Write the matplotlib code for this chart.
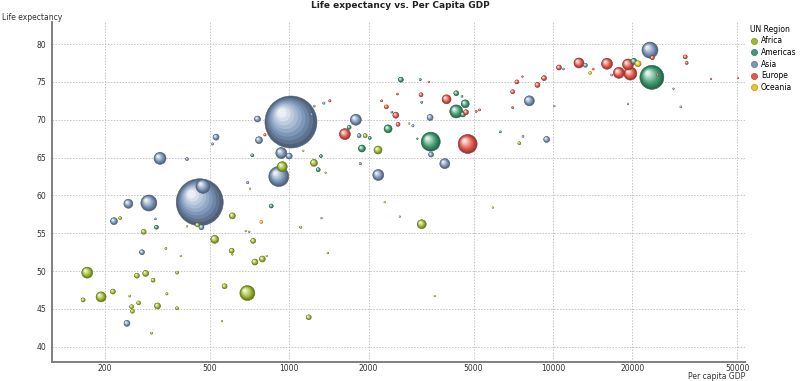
import numpy as np
import matplotlib
matplotlib.use("Agg")
import matplotlib.pyplot as plt
from matplotlib.colors import to_rgb
from matplotlib.lines import Line2D

# per capita GDP, life expectancy, population (millions)
africa_gdp = [171, 165, 193, 214, 248, 252, 254, 268, 264, 285, 304, 316, 300, 280, 340, 343,
              375, 375, 387, 409, 448, 521, 555, 568, 604, 608, 608, 683, 693, 729, 740, 790,
              820, 228, 940, 1130, 1240, 1373, 1940, 2170, 2850, 2300, 5920, 709, 3180, 1105,
              1400, 2625, 3560, 1185, 7460]
africa_life = [49.8, 46.2, 46.6, 47.3, 46.7, 45.3, 44.7, 45.8, 49.4, 49.7, 48.8, 45.4, 41.8, 55.2,
               53.0, 47.0, 49.8, 45.1, 52.0, 55.9, 56.1, 54.2, 43.4, 48.0, 52.7, 57.3, 52.2, 55.3,
               47.1, 54.0, 51.2, 51.6, 52.0, 57.0, 63.8, 65.9, 64.3, 63.0, 67.9, 66.0, 69.5, 59.1,
               58.4, 60.9, 56.2, 55.8, 52.4, 57.2, 46.7, 43.9, 66.9]
africa_pop = [57, 7.5, 47, 11.8, 1.9, 7.5, 7.5, 7.5, 11.8, 17, 7.5, 17, 1.9, 11.8, 1.9, 2.5,
              4.2, 4.2, 1.1, 1.1, 7.5, 30, 1.1, 11.8, 11.8, 17, 1.1, 1.1, 106, 11.8, 17, 17,
              1.1, 4.2, 47, 1.1, 23, 1.1, 7.5, 30, 1.1, 1.1, 1.1, 1.1, 38, 2.5,
              1.5, 1.1, 1.1, 11.8, 4.2]

americas_gdp = [854, 313, 723, 1318, 1287, 1686, 2020, 1885, 2370, 3180, 2650, 3140, 3440,
                4300, 4520, 4650, 4300, 4560, 2450, 6320, 3060, 20300, 23750]
americas_life = [58.6, 55.8, 65.3, 65.2, 63.4, 69.0, 67.6, 66.2, 68.8, 72.3, 75.3, 75.3, 67.1,
                 73.5, 73.1, 72.1, 71.1, 70.7, 71.0, 68.4, 67.5, 77.7, 75.6]
americas_pop = [7.5, 7.5, 4.2, 4.2, 7.5, 7.5, 4.2, 23, 30, 1.9, 11.8, 1.9, 170,
                11.8, 1.9, 30, 80, 11.8, 1.9, 1.9, 1.1, 17, 271]

asia_gdp = [1014, 457, 470, 310, 276, 242, 216, 245, 293, 705, 464, 323, 409, 527, 511, 757,
            767, 932, 912, 695, 999, 1215, 1243, 1352, 1788, 1840, 1860, 2175, 2945, 3420,
            3450, 3890, 1325, 7700, 9470, 8140, 10140, 10960, 13290, 16720, 23360, 28700,
            30600, 19280]
asia_life = [69.7, 59.1, 61.2, 56.9, 52.5, 43.1, 56.6, 58.9, 59.0, 55.2, 55.8, 64.9, 64.8, 67.7,
             66.8, 70.1, 67.3, 65.6, 62.5, 61.7, 65.2, 70.7, 71.8, 72.2, 70.0, 67.9, 64.2, 62.7,
             69.2, 70.3, 65.4, 64.2, 57.0, 67.8, 67.4, 72.5, 71.8, 76.7, 77.2, 75.9, 79.2, 74.1,
             71.7, 72.1]
asia_pop = [1274, 1040, 92, 1.9, 11.8, 17, 23, 38, 121, 1.1, 11.8, 68, 4.2, 17, 2.5, 17,
            23, 57, 189, 2.5, 17, 1.9, 1.9, 2.5, 57, 7.5, 2.5, 57, 2.5, 17,
            11.8, 47, 1.1, 1.9, 17, 47, 1.1, 1.9, 7.5, 1.9, 121, 1.1,
            1.9, 1.1]

europe_gdp = [808, 1425, 1625, 2240, 2335, 2570, 2535, 2585, 3160, 3380, 3950, 4680, 5120, 5270,
              4750, 7040, 7040, 7300, 7670, 8740, 9260, 10550, 12560, 14230, 16050, 17800,
              19280, 19680, 23870, 25000, 31800, 32200, 39800, 50500]
europe_life = [68.0, 72.5, 68.1, 72.5, 71.7, 73.4, 70.6, 69.4, 73.3, 75.0, 72.7, 71.0, 71.1, 71.3,
               66.8, 71.6, 73.7, 75.0, 75.7, 74.6, 75.5, 76.9, 77.5, 76.7, 77.4, 76.2,
               77.3, 76.1, 78.2, 75.9, 78.3, 77.5, 75.4, 75.5]
europe_pop = [2.5, 2.5, 57, 1.9, 7.5, 1.9, 17, 7.5, 7.5, 1.1, 38, 11.8, 1.9, 1.9,
              170, 1.9, 7.5, 7.5, 1.1, 11.8, 11.8, 11.8, 47, 1.9, 57, 57,
              57, 80, 7.5, 1.9, 7.5, 4.2, 1.1, 0.5]

oceania_gdp = [783, 13850, 21050]
oceania_life = [56.5, 76.2, 77.4]
oceania_pop = [4.2, 4.2, 17]

regions = ["Africa", "Americas", "Asia", "Europe", "Oceania"]
region_colors = ["#9dba2e", "#3e9c72", "#7a95b8", "#e4574b", "#f1c21b"]

x_ticks = [200, 500, 1000, 2000, 5000, 10000, 20000, 50000]
y_ticks = [40, 45, 50, 55, 60, 65, 70, 75, 80]


def mix(c1, c2, t):
    a, b = to_rgb(c1), to_rgb(c2)
    return tuple((1 - t) * p + t * q for p, q in zip(a, b))


gdp = np.array(africa_gdp + americas_gdp + asia_gdp + europe_gdp + oceania_gdp, dtype=float)
life = np.array(africa_life + americas_life + asia_life + europe_life + oceania_life, dtype=float)
pop = np.array(africa_pop + americas_pop + asia_pop + europe_pop + oceania_pop, dtype=float)
reg = np.array(
    [0] * len(africa_gdp) + [1] * len(americas_gdp) + [2] * len(asia_gdp)
    + [3] * len(europe_gdp) + [4] * len(oceania_gdp)
)

fig = plt.figure(figsize=(8, 3.81), dpi=100)
ax = fig.add_axes([0.065, 0.05, 0.866, 0.892])
ax.set_xscale("log")
ax.set_xlim(125.7, 53500)
ax.set_ylim(38.0, 82.9)

ax.set_xticks(x_ticks)
ax.set_xticklabels([str(t) for t in x_ticks])
ax.xaxis.set_minor_locator(matplotlib.ticker.NullLocator())
ax.set_yticks(y_ticks)
ax.tick_params(length=0, labelsize=5.5, colors="#333333")
ax.tick_params(axis="x", pad=1.5)
ax.tick_params(axis="y", pad=4)
ax.grid(True, color="#c4c4c4", linestyle=(0, (1.5, 1.5)), linewidth=0.7)
ax.set_axisbelow(True)
for side in ["top", "right"]:
    ax.spines[side].set_visible(False)
for side in ["left", "bottom"]:
    ax.spines[side].set_color("#808080")
    ax.spines[side].set_linewidth(1.4)

# bubbles: area follows population, biggest drawn first, shaded like spheres
sizes = pop * 1.1
order = np.argsort(-sizes)
n_layers = 9
fracs = np.linspace(1.0, 0.18, n_layers)
disp = ax.transData.transform(np.column_stack([gdp, life]))
inv = ax.transData.inverted()

for i in order:
    base = region_colors[reg[i]]
    dark = mix(base, "black", 0.35)
    light = mix(base, "white", 0.85)
    r_px = np.sqrt(sizes[i]) / 2 * fig.dpi / 72
    pts, ss, cols = [], [], []
    for k, f in enumerate(fracs):
        t = k / (n_layers - 1)
        if t < 0.35:
            col = mix(dark, base, t / 0.35)
        else:
            col = mix(base, light, (t - 0.35) / 0.65)
        shift = 0.42 * (1 - f) * r_px
        pts.append(disp[i] + np.array([-shift, shift]))
        ss.append(sizes[i] * f * f)
        cols.append(col)
    pts = inv.transform(np.array(pts))
    ax.scatter(pts[:, 0], pts[:, 1], s=ss, c=cols,
               edgecolors=[dark] + ["none"] * (n_layers - 1),
               linewidths=[0.4] + [0] * (n_layers - 1), zorder=3)

fig.text(0.5, 0.985, "Life expectancy vs. Per Capita GDP", ha="center", va="center",
         fontsize=6.5, fontweight="bold", color="#222222")
fig.text(0.002, 0.955, "Life expectancy", ha="left", va="center", fontsize=5.5, color="#333333")
fig.text(0.931, 0.013, "Per capita GDP", ha="right", va="center", fontsize=5.5, color="#333333")

handles = [Line2D([], [], marker="o", linestyle="", markersize=4.5, color=c,
                  markeredgecolor=mix(c, "black", 0.3), markeredgewidth=0.4)
           for c in region_colors]
leg = fig.legend(handles, regions, loc="upper left", bbox_to_anchor=(0.938, 0.935),
                 frameon=False, fontsize=5.5, title="UN Region", title_fontsize=5.5,
                 alignment="left", handletextpad=0.4, labelspacing=0.35, borderpad=0,
                 handlelength=1.0, borderaxespad=0)

fig.savefig("out.png", dpi=100)
